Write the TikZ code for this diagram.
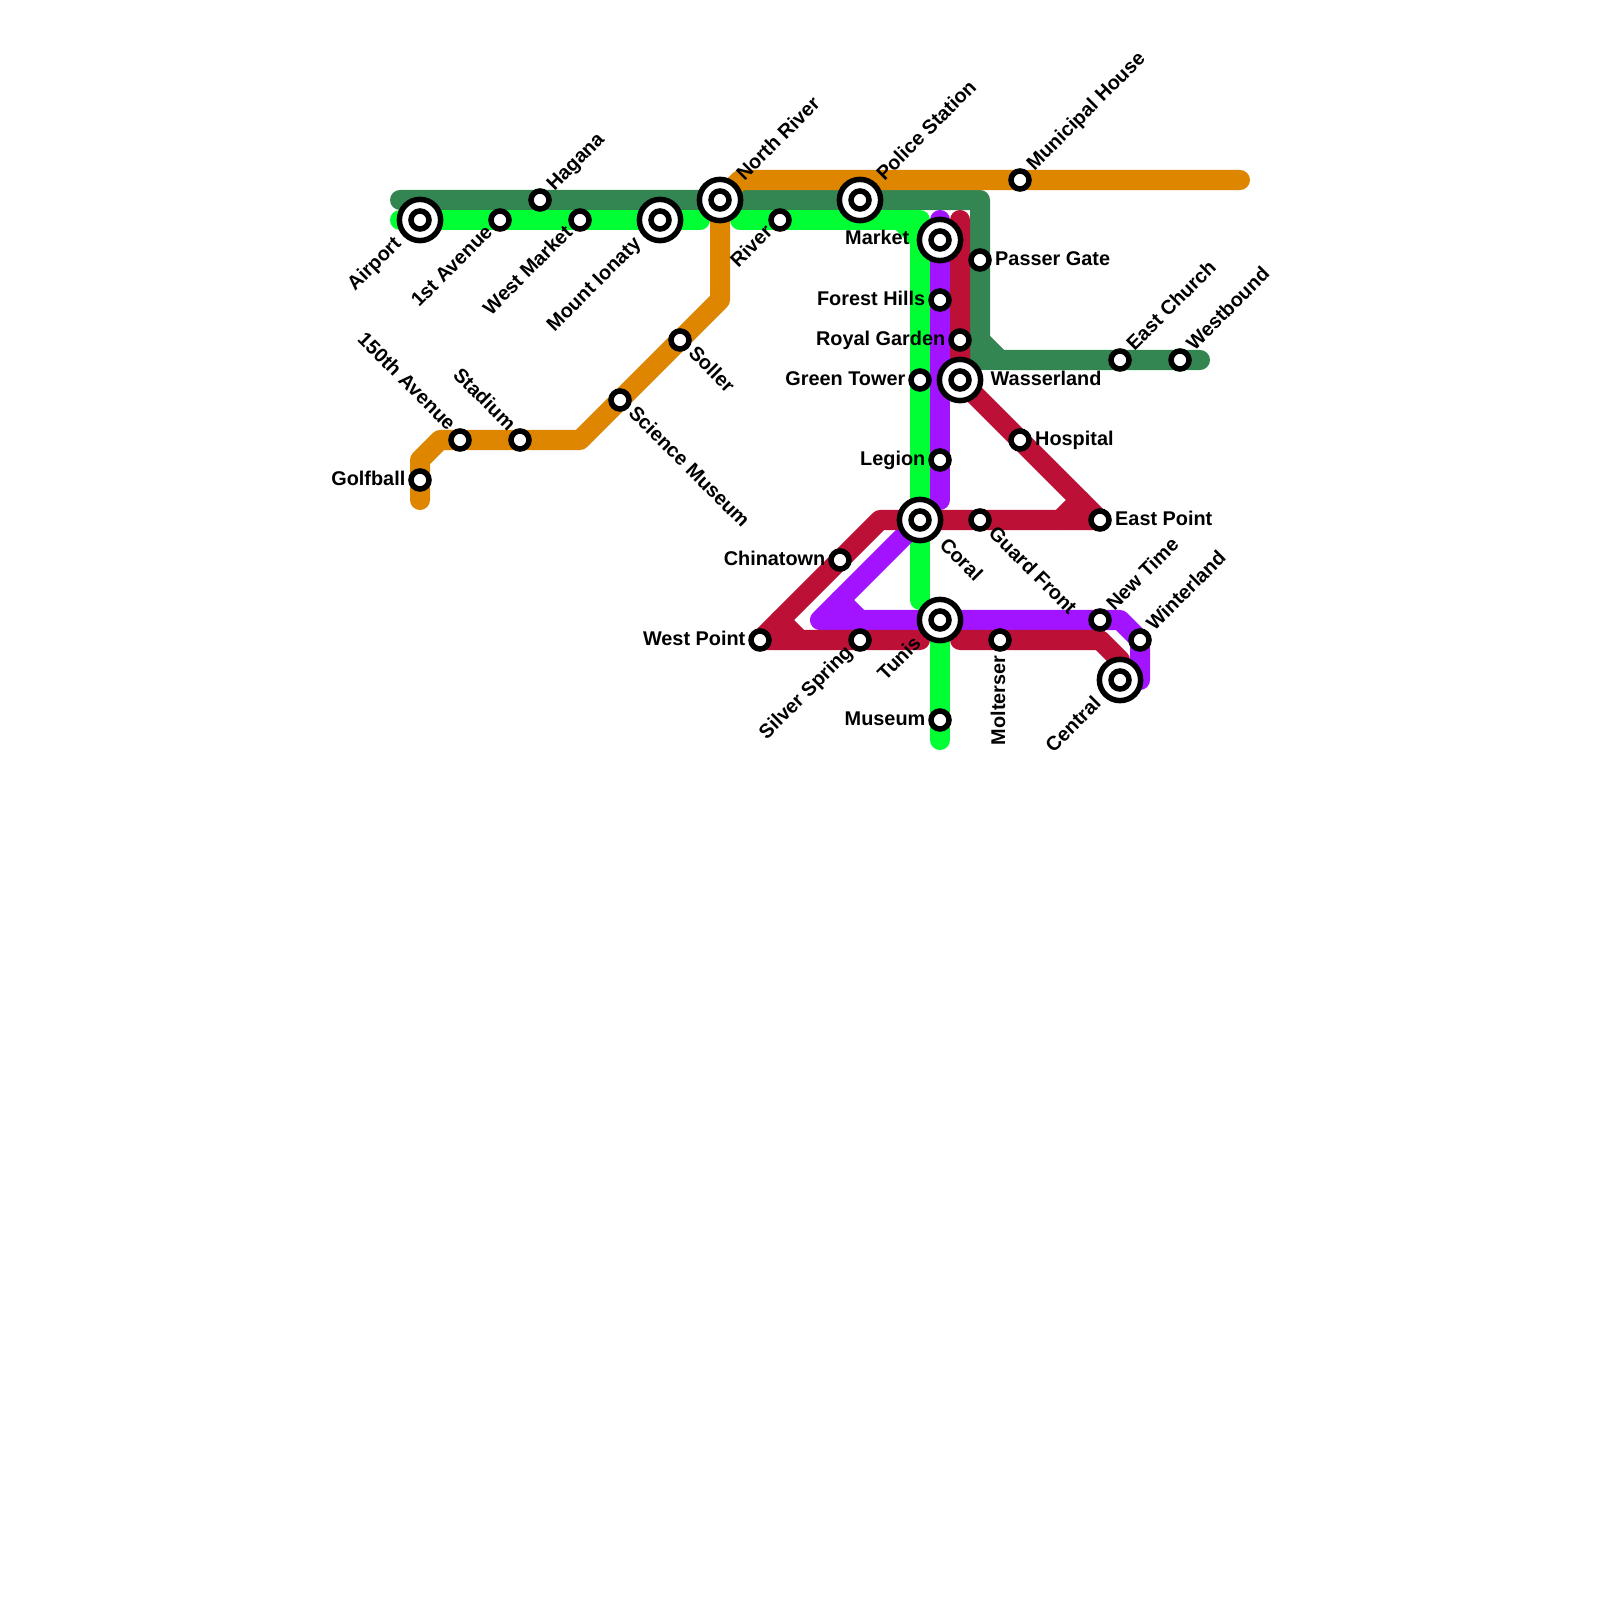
\documentclass[tikz,border=0pt]{standalone}
\usepackage{fontspec}
\setmainfont{Liberation Sans}
\usetikzlibrary{backgrounds}
\definecolor{ltgreen}{HTML}{338552}
\definecolor{ltorange}{HTML}{DE8600}
\definecolor{ltlime}{HTML}{00FF33}
\definecolor{ltpurple}{HTML}{A214FF}
\definecolor{ltred}{HTML}{BC1037}
\tikzset{
  stn/.style={circle,draw=black,fill=white,line width=0.055cm,inner sep=0,minimum size=0.18cm},
  stnbig/.style={stn,minimum size=0.412cm},
  metro/.style={line width=0.2cm,line cap=round,line join=round},
  lbl/.style={inner sep=0,font=\bfseries\fontsize{5.65}{6.8}\selectfont},
  lble/.style={lbl,shift={(14.5,5)},anchor=base west},
  lblw/.style={lbl,shift={(-14,5)},anchor=base east},
  lblne/.style={lbl,shift={(14,-8)},rotate=45,anchor=base west},
  lblsw/.style={lbl,shift={(-6,13)},rotate=45,anchor=base east},
  lblse/.style={lbl,shift={(7,14)},rotate=-45,anchor=base west},
  lblnw/.style={lbl,shift={(-12,-8)},rotate=-45,anchor=base east},
  lblbigne/.style={lbl,shift={(24,-18)},rotate=45,anchor=base west},
  lblbigsw/.style={lbl,shift={(-17.5,24.5)},rotate=45,anchor=base east},
  lblbigse/.style={lbl,shift={(18,25.5)},rotate=-45,anchor=base west},
}
\begin{document}
\begin{tikzpicture}[x=0.01cm,y=-0.01cm]
\useasboundingbox (0,0) rectangle (1600,1600);
% interchanges
\node[stnbig] (airport) at (420,220) {}; \node[stnbig] (ionaty) at (660,220) {};
\node[stnbig] (northriver) at (720,200) {}; \node[stnbig] (police) at (860,200) {};
\node[stnbig] (market) at (940,240) {}; \node[stnbig] (wasserland) at (960,380) {};
\node[stnbig] (coral) at (920,520) {}; \node[stnbig] (tunis) at (940,620) {};
\node[stnbig] (central) at (1120,680) {};
\foreach \n in {airport,ionaty,northriver,police,market,wasserland,coral,tunis,central}
  \node[stn] (\n-in) at (\n) {};
% plain stops
\node[stn] (avenue) at (500,220) {}; \node[stn] (hagana) at (540,200) {};
\node[stn] (westmarket) at (580,220) {}; \node[stn] (river) at (780,220) {};
\node[stn] (soller) at (680,340) {}; \node[stn] (science) at (620,400) {};
\node[stn] (stadium) at (520,440) {}; \node[stn] (avenue150) at (460,440) {};
\node[stn] (golfball) at (420,480) {}; \node[stn] (municipal) at (1020,180) {};
\node[stn] (passer) at (980,260) {}; \node[stn] (forest) at (940,300) {};
\node[stn] (royal) at (960,340) {}; \node[stn] (greentower) at (920,380) {};
\node[stn] (eastchurch) at (1120,360) {}; \node[stn] (westbound) at (1180,360) {};
\node[stn] (hospital) at (1020,440) {}; \node[stn] (legion) at (940,460) {};
\node[stn] (guard) at (980,520) {}; \node[stn] (eastpoint) at (1100,520) {};
\node[stn] (chinatown) at (840,560) {}; \node[stn] (westpoint) at (760,640) {};
\node[stn] (silver) at (860,640) {}; \node[stn] (molterser) at (1000,640) {};
\node[stn] (newtime) at (1100,620) {}; \node[stn] (winterland) at (1140,640) {};
\node[stn] (museum) at (940,720) {};
% bends and free ends
\coordinate (gw) at (400,200); \coordinate (gc) at (980,200); \coordinate (gb) at (980,340);
\coordinate (gd) at (1000,360); \coordinate (ge) at (1200,360); \coordinate (gs) at (960,360);
\coordinate (gj) at (980,360);
\coordinate (oe) at (1240,180); \coordinate (ot) at (740,180); \coordinate (om) at (720,300);
\coordinate (ol) at (580,440); \coordinate (ok) at (440,440); \coordinate (oj) at (420,460);
\coordinate (ob) at (420,500);
\coordinate (lw) at (400,220); \coordinate (lm) at (700,220); \coordinate (ln) at (740,220);
\coordinate (lc) at (900,220); \coordinate (lq) at (920,220); \coordinate (lv) at (920,240);
\coordinate (lb) at (920,600); \coordinate (lz) at (940,740);
\coordinate (pt) at (940,220); \coordinate (pb) at (940,500); \coordinate (pk) at (840,600);
\coordinate (pl) at (820,620); \coordinate (pf) at (860,620); \coordinate (pr) at (1120,620);
\coordinate (pd) at (1140,680);
\coordinate (rt) at (960,220); \coordinate (ra) at (1080,500); \coordinate (rn) at (1060,520);
\coordinate (rc) at (880,520); \coordinate (rk) at (780,620); \coordinate (rf) at (800,640);
\coordinate (re) at (920,640); \coordinate (rs) at (960,640); \coordinate (rr) at (1100,640);
\coordinate (rd) at (1120,660);
\begin{scope}[on background layer]
\draw[metro,ltgreen] (gw)--(gc)--(gb)--(gd)--(ge); \draw[metro,ltgreen] (gs)--(gd);
\draw[metro,ltgreen] (gb)--(gj);
\draw[metro,ltorange] (oe)--(ot)--(northriver.center)--(om)--(ol)--(ok)--(oj)--(ob);
\draw[metro,ltlime] (lw)--(lm); \draw[metro,ltlime] (ln)--(lq)--(lb);
\draw[metro,ltlime] (lc)--(lv);
\draw[metro,ltlime] (tunis.center)--(lz);
\draw[metro,ltpurple] (pt)--(pb);
\draw[metro,ltpurple] (coral.center)--(pl)--(pr)--(winterland.center)--(pd)--(central.center);
\draw[metro,ltpurple] (pk)--(pf);
\draw[metro,ltred] (rt)--(wasserland.center)--(ra)--(eastpoint.center)--(rc)--(westpoint.center)--(re);
\draw[metro,ltred] (ra)--(rn); \draw[metro,ltred] (rk)--(rf);
\draw[metro,ltred] (rs)--(rr)--(rd)--(central.center);
\end{scope}
% labels
\node[lblbigsw] (airport-t) at (airport) {Airport};
\node[lblsw] (avenue-t) at (avenue) {1st Avenue};
\node[lblne] (hagana-t) at (hagana) {Hagana};
\node[lblsw] (westmarket-t) at (westmarket) {West Market};
\node[lblbigsw] (ionaty-t) at (ionaty) {Mount Ionaty};
\node[lblbigne] (northriver-t) at (northriver) {North River};
\node[lblsw] (river-t) at (river) {River};
\node[lblbigne] (police-t) at (police) {Police Station};
\node[lblne] (municipal-t) at (municipal) {Municipal House};
\node[lblw,xshift=-0.16cm] (market-t) at (market) {Market};
\node[lble] (passer-t) at (passer) {Passer Gate};
\node[lblw] (forest-t) at (forest) {Forest Hills};
\node[lblw] (royal-t) at (royal) {Royal Garden};
\node[lblw] (greentower-t) at (greentower) {Green Tower};
\node[lble,xshift=0.155cm] (wasserland-t) at (wasserland) {Wasserland};
\node[lblne] (eastchurch-t) at (eastchurch) {East Church};
\node[lblne] (westbound-t) at (westbound) {Westbound};
\node[lble] (hospital-t) at (hospital) {Hospital};
\node[lblse] (soller-t) at (soller) {Soller};
\node[lblse] (science-t) at (science) {Science Museum};
\node[lblnw] (stadium-t) at (stadium) {Stadium};
\node[lblnw] (avenue150-t) at (avenue150) {150th Avenue};
\node[lblw] (golfball-t) at (golfball) {Golfball};
\node[lblw] (legion-t) at (legion) {Legion};
\node[lblbigse] (coral-t) at (coral) {Coral};
\node[lblse] (guard-t) at (guard) {Guard Front};
\node[lble] (eastpoint-t) at (eastpoint) {East Point};
\node[lblw] (chinatown-t) at (chinatown) {Chinatown};
\node[lblw] (westpoint-t) at (westpoint) {West Point};
\node[lblsw] (silver-t) at (silver) {Silver Spring};
\node[lblbigsw] (tunis-t) at (tunis) {Tunis};
\node[lbl,shift={(5,15)},rotate=90,anchor=base east] (molterser-t) at (molterser) {Molterser};
\node[lblne] (newtime-t) at (newtime) {New Time};
\node[lblne] (winterland-t) at (winterland) {Winterland};
\node[lblbigsw] (central-t) at (central) {Central};
\node[lblw] (museum-t) at (museum) {Museum};
\end{tikzpicture}
\end{document}
